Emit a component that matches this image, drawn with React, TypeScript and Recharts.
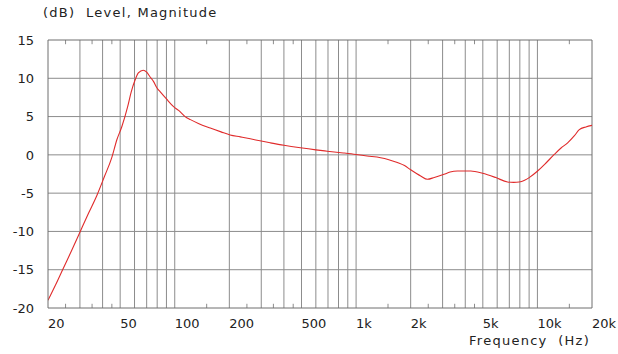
import React from 'react';
import { LineChart, Line, XAxis, YAxis, ReferenceLine } from 'recharts';

const freqs = [
  20, 22, 24.3, 27, 30, 33.5, 37.2, 41, 44.9, 48, 51.1, 55, 57.5, 60.5, 63, 67, 70, 73, 76.3, 80,
  83, 90, 98.5, 105, 114, 122, 135, 157, 180, 202, 230, 261, 300, 337, 400, 493, 600, 693, 850,
  1000, 1150, 1365, 1500, 1689, 1850, 2000, 2271, 2475, 2700, 3055, 3300, 3623, 4000, 4292, 4978,
  5897, 6843, 7400, 7929, 8500, 9008, 10025, 11000, 12383, 13500, 14680, 16000, 17020, 18500, 20000,
];
const levels = [
  -19.0, -17.0, -14.8, -12.5, -10.1, -7.6, -5.3, -2.8, -0.4, 2.0, 3.7, 6.3, 8.2, 9.8, 10.7, 11.05,
  10.8, 10.2, 9.6, 8.7, 8.25, 7.3, 6.3, 5.8, 5.0, 4.6, 4.1, 3.5, 3.0, 2.6, 2.35, 2.1, 1.8, 1.57,
  1.25, 0.92, 0.65, 0.48, 0.25, 0.05, -0.15, -0.38, -0.6, -1.0, -1.4, -1.95, -2.76, -3.19, -2.95,
  -2.54, -2.25, -2.11, -2.1, -2.11, -2.41, -2.97, -3.54, -3.6, -3.54, -3.3, -2.97, -2.11, -1.2,
  0.05, 0.9, 1.57, 2.5, 3.29, 3.65, 3.85,
];

const xTicks = [20, 50, 100, 200, 500, 1000, 2000, 5000, 10000, 20000];
const yTicks = [-20, -15, -10, -5, 0, 5, 10, 15];
const gridFreqs = [
  30, 40, 50, 60, 70, 80, 90, 100, 200, 300, 400, 500, 600, 700, 800, 900, 1000,
  2000, 3000, 4000, 5000, 6000, 7000, 8000, 9000, 10000,
];
const gridLevels = [-15, -10, -5, 0, 5, 10];
const minorFreqs = [25, 35, 45, 150, 250, 350, 450, 1500, 2500, 3500, 4500, 15000];

const data = freqs.map((f, i) => ({ f, db: levels[i] }));

if (typeof document !== 'undefined') document.body.style.margin = '0';

const FONT = '"DejaVu Sans", Verdana, sans-serif';
const GRID = '#8c8c8c';
const FRAME = '#6e6e6e';

const fmtFreq = (v: number) => (v >= 1000 ? `${v / 1000}k` : `${v}`);

const XTick = ({ x, y, payload }: any) => (
  <text x={x} y={y + 12} textAnchor="start" fontFamily={FONT} fontSize={13} fill="#222">
    {fmtFreq(payload.value)}
  </text>
);

const YTick = ({ x, y, payload }: any) => (
  <text x={x - 6} y={y} dy="0.36em" textAnchor="end" fontFamily={FONT} fontSize={13} fill="#222">
    {payload.value}
  </text>
);

export default function App() {
  return (
    <div style={{ position: 'relative', width: 618, height: 354, background: '#fff' }}>
      <LineChart width={618} height={354} data={data} margin={{ top: 40, right: 26, left: 0, bottom: 0 }}>
        <XAxis
          dataKey="f"
          type="number"
          scale="log"
          domain={[20, 20000]}
          ticks={xTicks}
          tick={<XTick />}
          tickLine={false}
          axisLine={{ stroke: FRAME }}
          height={46}
          allowDataOverflow
        />
        <YAxis
          type="number"
          domain={[-20, 15]}
          ticks={yTicks}
          tick={<YTick />}
          tickLine={false}
          axisLine={{ stroke: FRAME }}
          width={48}
          allowDataOverflow
        />
        {gridFreqs.map((f) => (
          <ReferenceLine key={`gx${f}`} x={f} stroke={GRID} strokeWidth={1} />
        ))}
        {gridLevels.map((v) => (
          <ReferenceLine key={`gy${v}`} y={v} stroke={GRID} strokeWidth={1} />
        ))}
        {minorFreqs.map((f) => (
          <ReferenceLine key={`mb${f}`} segment={[{ x: f, y: -20 }, { x: f, y: -19.45 }]} stroke={GRID} />
        ))}
        {minorFreqs.map((f) => (
          <ReferenceLine key={`mt${f}`} segment={[{ x: f, y: 15 }, { x: f, y: 14.45 }]} stroke={GRID} />
        ))}
        <ReferenceLine y={15} stroke={FRAME} />
        <ReferenceLine x={20000} stroke={FRAME} />
        <Line
          type="monotone"
          dataKey="db"
          stroke="#e02b2b"
          strokeWidth={1.1}
          dot={false}
          isAnimationActive={false}
        />
      </LineChart>
      <div
        style={{
          position: 'absolute', left: 43, top: 5, fontFamily: FONT, fontSize: 13, letterSpacing: 1.25,
          color: '#222', whiteSpace: 'pre', lineHeight: '16px',
        }}
      >
        {'(dB)  Level, Magnitude'}
      </div>
      <div
        style={{
          position: 'absolute', right: 28, top: 333, fontFamily: FONT, fontSize: 13, letterSpacing: 1.25,
          color: '#222', whiteSpace: 'pre', lineHeight: '16px',
        }}
      >
        {'Frequency  (Hz)'}
      </div>
    </div>
  );
}
